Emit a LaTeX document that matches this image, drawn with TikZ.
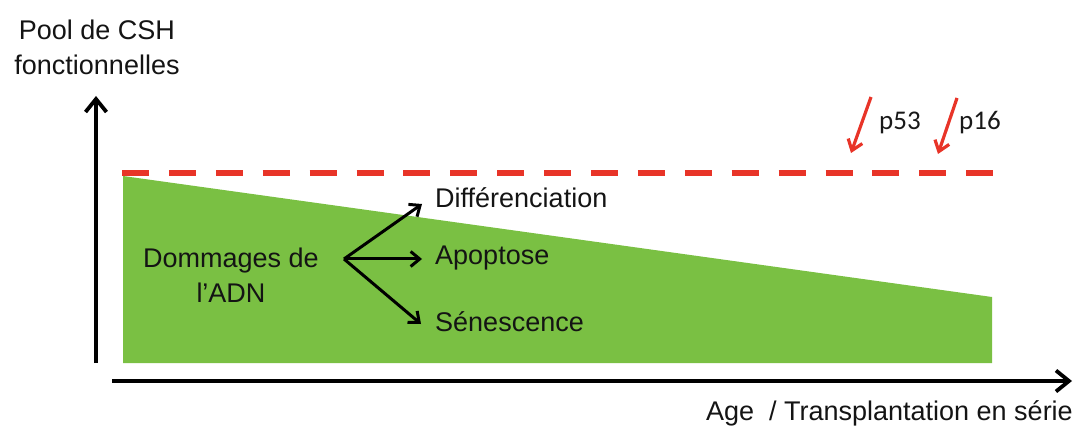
\documentclass[tikz,border=0pt]{standalone}
\usepackage{fontspec}
\setmainfont{Liberation Sans}
\newfontfamily\calfont{Carlito}
\usetikzlibrary{arrows.meta}
\definecolor{pgreen}{RGB}{122,192,67}
\definecolor{pred}{RGB}{232,52,40}
\begin{document}
\begin{tikzpicture}[x=1pt,y=-1pt,
  lbl/.style={font=\fontsize{27}{35}\selectfont, inner sep=0pt, text=black!92},
  plbl/.style={font=\calfont\fontsize{27}{32}\selectfont, inner sep=0pt, text=black!90},
  axis/.style={line width=3.8pt, -{Straight Barb[length=13pt,width=21pt,line width=3.8pt]}},
  branch/.style={line width=3pt, -{Straight Barb[length=9pt,width=15pt,line width=3pt]}},
  redarrow/.style={pred, line width=3.2pt, -{Straight Barb[length=10pt,width=15pt,line width=3.2pt]}}]
\useasboundingbox (0,0) rectangle (1084,430);
% green area
\fill[pgreen] (123,176) -- (992,297) -- (992,363) -- (123,363) -- cycle;
% red dashed line
\draw[pred, line width=5.5pt, dash pattern=on 27pt off 19.9pt] (122,173) -- (993,173);
% axes
\coordinate (yo) at (96,363);
\coordinate (ye) at (96,96);
\coordinate (xo) at (112,381);
\coordinate (xe) at (1072,381);
\draw[axis] (yo) -- (ye);
\draw[axis] (xo) -- (xe);
% labels
\node[lbl, align=center] (pool) at (97,47) {Pool de CSH\\fonctionnelles};
\node[lbl, anchor=east] (age) at (1073,413) {Age \ / Transplantation en série};
\node[lbl, align=center] (dom) at (231,275) {Dommages de\\l’ADN};
\coordinate (split) at (344,259);
\node[lbl, anchor=west] (diff) at (435,198) {Différenciation};
\node[lbl, anchor=west] (apo) at (435,258) {Apoptose};
\node[lbl, anchor=west] (sen) at (435,322) {Sénescence};
\coordinate (tdiff) at (422,204);
\coordinate (tapo) at (422,259);
\coordinate (tsen) at (421,324);
\draw[branch] (split) -- (tdiff);
\draw[branch] (split) -- (tapo);
\draw[branch] (split) -- (tsen);
% p53 / p16
\node[plbl, anchor=west] (p53) at (879,123) {p53};
\node[plbl, anchor=west] (p16) at (959,123) {p16};
\coordinate (a1s) at (871,97);
\coordinate (a1e) at (851,153);
\coordinate (a2s) at (957,98);
\coordinate (a2e) at (938,154);
\draw[redarrow] (a1s) -- (a1e);
\draw[redarrow] (a2s) -- (a2e);
\end{tikzpicture}
\end{document}
